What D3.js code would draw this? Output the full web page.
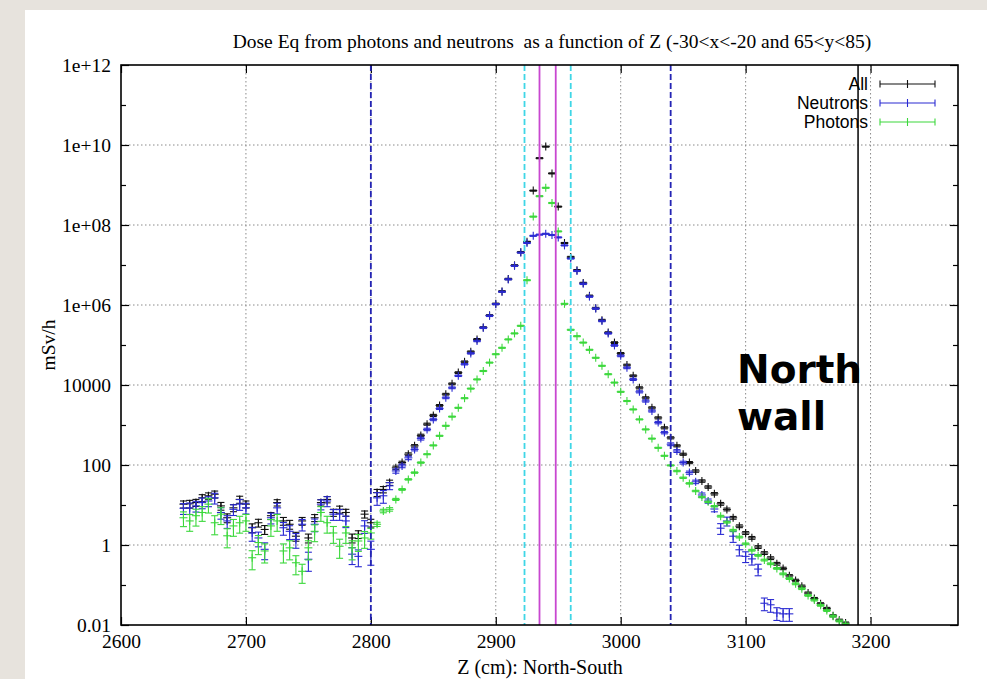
<!DOCTYPE html>
<html>
<head>
<meta charset="utf-8">
<script src="https://cdn.jsdelivr.net/npm/d3@7"></script>
<style>
  html, body { margin: 0; padding: 0; background: #e7e3dd; }
  svg { display: block; }
</style>
</head>
<body>
<svg id="chart" width="987" height="679"></svg>
<script>
// Dose equivalent along Z, sampled every 5 cm
const zPos = [
  2650, 2655, 2660, 2665, 2670, 2675, 2680, 2685, 2690, 2695,
  2700, 2705, 2710, 2715, 2720, 2725, 2730, 2735, 2740, 2745,
  2750, 2755, 2760, 2765, 2770, 2775, 2780, 2785, 2790, 2795,
  2800, 2805, 2810, 2815, 2820, 2825, 2830, 2835, 2840, 2845,
  2850, 2855, 2860, 2865, 2870, 2875, 2880, 2885, 2890, 2895,
  2900, 2905, 2910, 2915, 2920, 2925, 2930, 2935, 2940, 2945,
  2950, 2955, 2960, 2965, 2970, 2975, 2980, 2985, 2990, 2995,
  3000, 3005, 3010, 3015, 3020, 3025, 3030, 3035, 3040, 3045,
  3050, 3055, 3060, 3065, 3070, 3075, 3080, 3085, 3090, 3095,
  3100, 3105, 3110, 3115, 3120, 3125, 3130, 3135, 3140, 3145,
  3150, 3155, 3160, 3165, 3170, 3175, 3180
];

// mSv/h, total
const allDose = [
  10.5, 10.7, 11.5, 15.1, 17.0, 18.6, 9.5, 4.8, 8.5, 13.8,
  10.5, 2.7, 3.6, 2.45, 5.4, 11.5, 4.0, 3.3, 1.66, 4.0,
  1.5, 4.8, 11.5, 13.8, 6.5, 7.8, 6.5, 1.5, 1.86, 5.9,
  3.6, 20.4, 24.5, 36.3, 85, 115, 186, 302, 550, 1050,
  1740, 3090, 5890, 10700, 20400, 38000, 67600, 1.38e5, 2.75e5, 5.5e5,
  1.07e6, 2.19e6, 4.47e6, 9.77e6, 2.09e7, 3.8e7, 7.24e8, 4.68e9, 9.12e9, 1.95e9,
  2.88e8, 3.55e7, 1.58e7, 7.41e6, 3.55e6, 1.7e6, 8.32e5, 4.17e5, 2.04e5, 1.15e5,
  6.17e4, 31600, 17000, 8510, 4790, 2690, 1510, 851, 479, 302,
  186, 115, 70.8, 39.8, 28.2, 19.1, 10.7, 7.76, 4.79, 2.95,
  2.0, 1.51, 0.89, 0.63, 0.47, 0.34, 0.26, 0.17, 0.13, 0.093,
  0.063, 0.046, 0.034, 0.026, 0.017, 0.0132, 0.0112
];

// mSv/h, neutrons (null: below the plotted range)
const neutronDose = [
  8.3, 8.5, 9.5, 11.5, 12.6, 15.1, 6.5, 4.0, 7.8, 10.5,
  8.5, 2.0, 1.5, 0.78, 4.8, 8.5, 2.7, 2.2, 1.38, 3.3,
  0.44, 3.3, 10.5, 12.6, 5.9, 5.9, 4.0, 0.59, 0.52, 3.0,
  0.78, 15.1, 17.0, 30.2, 71, 95, 151, 245, 457, 776,
  1380, 2570, 4790, 8510, 17000, 33100, 61700, 1.26e5, 2.69e5, 5.37e5,
  1.05e6, 2.14e6, 4.37e6, 9.55e6, 2.04e7, 3.55e7, 5.37e7, 5.75e7, 6.03e7, 5.62e7,
  4.9e7, 3.09e7, 1.45e7, 7.08e6, 3.39e6, 1.62e6, 8.13e5, 3.98e5, 1.95e5, 9.77e4,
  5.37e4, 26900, 13800, 6760, 3980, 2240, 1150, 646, 331, 224,
  115, 64.6, 38.0, 17.8, 12.6, 7.94, 2.63, 3.98, 1.66, 0.76,
  0.52, 0.45, 0.25, 0.035, 0.032, 0.020, 0.019, 0.019, null, null,
  null, null, null, null, null, null, null
];

// mSv/h, photons
const photonDose = [
  4.8, 4.0, 5.4, 6.5, 10.5, 3.6, 5.9, 1.7, 3.0, 3.6,
  4.0, 0.48, 1.15, 0.71, 3.0, 4.0, 0.71, 0.85, 0.36, 0.22,
  0.85, 2.2, 6.5, 3.6, 2.0, 0.93, 2.0, 0.85, 1.26, 1.5,
  2.0, 3.3, 7.1, 7.8, 13.8, 24.5, 43.7, 64.6, 115, 186,
  309, 537, 955, 1620, 2690, 4680, 8130, 1.38e4, 2.24e4, 3.63e4,
  5.89e4, 8.51e4, 1.38e5, 1.95e5, 3.02e5, 4.17e6, 1.62e8, 5.25e8, 8.51e8, 3.55e8,
  6.92e7, 1.07e6, 2.4e5, 1.66e5, 1.15e5, 7.59e4, 4.79e4, 3.02e4, 1.86e4, 1.15e4,
  6760, 3980, 2450, 1380, 776, 457, 269, 170, 97.7, 70.8,
  47.9, 34.7, 22.4, 15.8, 12.0, 9.33, 5.25, 3.72, 2.34, 1.58,
  1.07, 0.74, 0.55, 0.42, 0.34, 0.26, 0.19, 0.145, 0.107, 0.081,
  0.055, 0.042, 0.031, 0.023, 0.0166, 0.0126, 0.0105
];

// Relative statistical errors
const allErr = [
  0.2, 0.22, 0.2, 0.2, 0.18, 0.2, 0.22, 0.25, 0.2, 0.2,
  0.2, 0.25, 0.22, 0.25, 0.2, 0.18, 0.22, 0.25, 0.25, 0.22,
  0.25, 0.2, 0.18, 0.18, 0.2, 0.2, 0.2, 0.25, 0.22, 0.2,
  0.22, 0.2, 0.18, 0.15, 0.1, 0.08, 0.08, 0.07, 0.07, 0.06,
  0.06, 0.05, 0.05, 0.05, 0.05, 0.05, 0.05, 0.05, 0.04, 0.04,
  0.04, 0.04, 0.04, 0.04, 0.04, 0.03, 0.03, 0.03, 0.03, 0.03,
  0.03, 0.03, 0.04, 0.04, 0.04, 0.04, 0.05, 0.05, 0.05, 0.05,
  0.05, 0.05, 0.05, 0.06, 0.06, 0.06, 0.06, 0.06, 0.06, 0.06,
  0.06, 0.06, 0.07, 0.07, 0.07, 0.07, 0.08, 0.08, 0.08, 0.08,
  0.08, 0.08, 0.08, 0.08, 0.08, 0.08, 0.07, 0.07, 0.07, 0.07,
  0.06, 0.06, 0.06, 0.06, 0.06, 0.06, 0.06
];

const neutronErr = [
  0.3, 0.32, 0.3, 0.3, 0.28, 0.3, 0.32, 0.35, 0.3, 0.3,
  0.3, 0.38, 0.4, 0.45, 0.3, 0.3, 0.35, 0.38, 0.4, 0.32,
  0.5, 0.35, 0.28, 0.28, 0.3, 0.3, 0.32, 0.45, 0.45, 0.35,
  0.6, 0.35, 0.35, 0.2, 0.12, 0.1, 0.1, 0.08, 0.08, 0.07,
  0.07, 0.05, 0.05, 0.05, 0.04, 0.04, 0.04, 0.04, 0.04, 0.04,
  0.03, 0.03, 0.03, 0.03, 0.03, 0.03, 0.03, 0.03, 0.03, 0.03,
  0.03, 0.03, 0.03, 0.03, 0.04, 0.04, 0.04, 0.04, 0.04, 0.05,
  0.05, 0.05, 0.06, 0.06, 0.06, 0.06, 0.07, 0.07, 0.08, 0.08,
  0.08, 0.09, 0.1, 0.12, 0.12, 0.15, 0.3, 0.25, 0.3, 0.3,
  0.3, 0.3, 0.32, 0.35, 0.35, 0.35, 0.35, 0.35, null, null,
  null, null, null, null, null, null, null
];

const photonErr = [
  0.4, 0.45, 0.45, 0.4, 0.4, 0.5, 0.45, 0.5, 0.45, 0.45,
  0.45, 0.5, 0.5, 0.5, 0.45, 0.45, 0.5, 0.5, 0.5, 0.5,
  0.5, 0.45, 0.4, 0.45, 0.45, 0.5, 0.45, 0.5, 0.45, 0.45,
  0.3, 0.12, 0.1, 0.1, 0.06, 0.05, 0.04, 0.04, 0.04, 0.03,
  0.03, 0.03, 0.03, 0.03, 0.03, 0.03, 0.03, 0.03, 0.03, 0.03,
  0.03, 0.03, 0.03, 0.03, 0.03, 0.03, 0.03, 0.03, 0.03, 0.03,
  0.03, 0.03, 0.03, 0.03, 0.03, 0.03, 0.03, 0.03, 0.03, 0.03,
  0.03, 0.03, 0.03, 0.03, 0.03, 0.03, 0.03, 0.03, 0.03, 0.04,
  0.04, 0.04, 0.04, 0.04, 0.04, 0.04, 0.05, 0.05, 0.05, 0.05,
  0.05, 0.05, 0.05, 0.05, 0.05, 0.05, 0.05, 0.05, 0.05, 0.05,
  0.05, 0.05, 0.05, 0.05, 0.05, 0.05, 0.05
];

const seriesNames = ["All", "Neutrons", "Photons"];
const seriesColors = ["#111111", "#2a2ad2", "#3cd83c"];

// Reference planes along Z (cm)
const planeZ = [2800, 3040, 2923, 2960, 2935, 2948, 3190];
const planeKind = ["blue", "blue", "cyan", "cyan", "magenta", "magenta", "black"];

const xTicks = [2600, 2700, 2800, 2900, 3000, 3100, 3200];
const yTicks = [0.01, 1, 100, 1e4, 1e6, 1e8, 1e10, 1e12];
const yTickLabels = ["0.01", "1", "100", "10000", "1e+06", "1e+08", "1e+10", "1e+12"];
const yMinorTicks = [0.1, 10, 1000, 1e5, 1e7, 1e9, 1e11];

const titleText = "Dose Eq from photons and neutrons  as a function of Z (-30<x<-20 and 65<y<85)";
const xTitle = "Z (cm): North-South";
const yTitle = "mSv/h";
const noteLines = ["North", "wall"];

const svg = d3.select("#chart");
const W = 987, H = 679;
const plot = { left: 121, right: 958, top: 65, bottom: 625 };

// page background and white canvas
svg.append("rect").attr("width", W).attr("height", H).attr("fill", "#e7e3dd");
svg.append("rect").attr("x", 25).attr("y", 10).attr("width", W - 25).attr("height", H - 10).attr("fill", "#ffffff");

const x = d3.scaleLinear().domain([2600, 3270]).range([plot.left, plot.right]);
const y = d3.scaleLog().domain([0.01, 1e12]).range([plot.bottom, plot.top]);

const serif = "'Liberation Serif', 'Times New Roman', serif";
const sans = "'Liberation Sans', Arial, Helvetica, sans-serif";
const fs = 19.5;

// grid
const grid = svg.append("g").attr("stroke", "#8a8a8a").attr("stroke-width", 1)
  .attr("stroke-dasharray", "1.5,2.5").attr("fill", "none");
grid.selectAll("line.gx").data(xTicks.filter(t => t > 2600)).join("line")
  .attr("x1", d => x(d)).attr("x2", d => x(d))
  .attr("y1", plot.top).attr("y2", plot.bottom);
grid.selectAll("line.gy").data(yTicks.filter(t => t > 0.01 && t < 1e12)).join("line")
  .attr("x1", plot.left).attr("x2", plot.right)
  .attr("y1", d => y(d)).attr("y2", d => y(d));

// axes with inward ticks
const axB = svg.append("g").attr("transform", `translate(0,${plot.bottom})`)
  .call(d3.axisBottom(x).tickValues(xTicks).tickSize(-8).tickPadding(9).tickFormat(d3.format("d")));
const axT = svg.append("g").attr("transform", `translate(0,${plot.top})`)
  .call(d3.axisTop(x).tickValues(xTicks).tickSize(-8).tickFormat(""));
const axL = svg.append("g").attr("transform", `translate(${plot.left},0)`)
  .call(d3.axisLeft(y).tickValues(yTicks).tickSize(-8).tickPadding(10)
    .tickFormat((d, i) => yTickLabels[i]));
const axR = svg.append("g").attr("transform", `translate(${plot.right},0)`)
  .call(d3.axisRight(y).tickValues(yTicks).tickSize(-8).tickFormat(""));
const axLm = svg.append("g").attr("transform", `translate(${plot.left},0)`)
  .call(d3.axisLeft(y).tickValues(yMinorTicks).tickSize(-5).tickFormat(""));
const axRm = svg.append("g").attr("transform", `translate(${plot.right},0)`)
  .call(d3.axisRight(y).tickValues(yMinorTicks).tickSize(-5).tickFormat(""));

[axB, axT, axL, axR, axLm, axRm].forEach(g => {
  g.select(".domain").remove();
  g.selectAll(".tick line").attr("stroke", "#000").attr("stroke-width", 1.2);
  g.selectAll("text").attr("font-family", serif).attr("font-size", fs).attr("fill", "#000");
});

// data clipped to the frame
svg.append("clipPath").attr("id", "plotClip").append("rect")
  .attr("x", plot.left).attr("y", plot.top)
  .attr("width", plot.right - plot.left).attr("height", plot.bottom - plot.top);
const dataLayer = svg.append("g").attr("clip-path", "url(#plotClip)");

const seriesData = [
  zPos.map((z, i) => ({ z, v: allDose[i], e: allErr[i] })),
  zPos.map((z, i) => ({ z, v: neutronDose[i], e: neutronErr[i] })),
  zPos.map((z, i) => ({ z, v: photonDose[i], e: photonErr[i] }))
];

const cap = 3.5, arm = 4;
seriesData.forEach((pts, si) => {
  const col = seriesColors[si];
  const g = dataLayer.append("g").attr("stroke", col).attr("stroke-width", 1.1).attr("fill", "none");
  const valid = pts.filter(p => p.v != null);
  const item = g.selectAll("g").data(valid).join("g");
  const hi = p => y(p.v * (1 + p.e));
  const lo = p => y(Math.max(p.v * (1 - p.e), 1e-4));
  item.append("line").attr("x1", p => x(p.z)).attr("x2", p => x(p.z)).attr("y1", hi).attr("y2", lo);
  item.append("line").attr("x1", p => x(p.z) - cap).attr("x2", p => x(p.z) + cap).attr("y1", hi).attr("y2", hi);
  item.append("line").attr("x1", p => x(p.z) - cap).attr("x2", p => x(p.z) + cap).attr("y1", lo).attr("y2", lo);
  item.append("line").attr("x1", p => x(p.z) - arm).attr("x2", p => x(p.z) + arm)
    .attr("y1", p => y(p.v)).attr("y2", p => y(p.v));
  item.append("line").attr("x1", p => x(p.z)).attr("x2", p => x(p.z))
    .attr("y1", p => y(p.v) - arm).attr("y2", p => y(p.v) + arm);
});

// reference planes
const planeStyle = {
  blue: { stroke: "#2424b4", dash: "6,3", width: 1.8 },
  cyan: { stroke: "#3fd6e6", dash: "6,3", width: 1.8 },
  magenta: { stroke: "#c847d0", dash: null, width: 1.8 },
  black: { stroke: "#111111", dash: null, width: 1.6 }
};
svg.append("g").selectAll("line").data(planeZ).join("line")
  .attr("x1", d => x(d)).attr("x2", d => x(d))
  .attr("y1", plot.top).attr("y2", plot.bottom)
  .attr("stroke", (d, i) => planeStyle[planeKind[i]].stroke)
  .attr("stroke-width", (d, i) => planeStyle[planeKind[i]].width)
  .attr("stroke-dasharray", (d, i) => planeStyle[planeKind[i]].dash);

// frame
svg.append("rect").attr("x", plot.left).attr("y", plot.top)
  .attr("width", plot.right - plot.left).attr("height", plot.bottom - plot.top)
  .attr("fill", "none").attr("stroke", "#000").attr("stroke-width", 1.6);

// key
const key = svg.append("g");
seriesNames.forEach((name, i) => {
  const yy = 84 + i * 19;
  key.append("text").attr("x", 868).attr("y", yy + 6).attr("text-anchor", "end")
    .attr("font-family", sans).attr("font-size", 17.5).attr("fill", "#000").text(name);
  const k = key.append("g").attr("stroke", seriesColors[i]).attr("stroke-width", 1.1);
  k.append("line").attr("x1", 880).attr("x2", 935).attr("y1", yy).attr("y2", yy);
  k.append("line").attr("x1", 880).attr("x2", 880).attr("y1", yy - cap).attr("y2", yy + cap);
  k.append("line").attr("x1", 935).attr("x2", 935).attr("y1", yy - cap).attr("y2", yy + cap);
  k.append("line").attr("x1", 907.5).attr("x2", 907.5).attr("y1", yy - arm).attr("y2", yy + arm);
});

// titles
svg.append("text").attr("x", 552).attr("y", 48).attr("text-anchor", "middle")
  .attr("font-family", serif).attr("font-size", fs).style("white-space", "pre")
  .text(titleText);
svg.append("text").attr("x", 540).attr("y", 674).attr("text-anchor", "middle")
  .attr("font-family", serif).attr("font-size", 20).text(xTitle);
svg.append("text").attr("transform", "translate(55,345) rotate(-90)").attr("text-anchor", "middle")
  .attr("font-family", serif).attr("font-size", fs).text(yTitle);

// annotation
svg.append("g").selectAll("text").data(noteLines).join("text")
  .attr("x", 737).attr("y", (d, i) => 383 + i * 47)
  .attr("font-family", "'DejaVu Sans', sans-serif").attr("font-weight", "bold")
  .attr("font-size", 39).attr("fill", "#000").text(d => d);
</script>
</body>
</html>
